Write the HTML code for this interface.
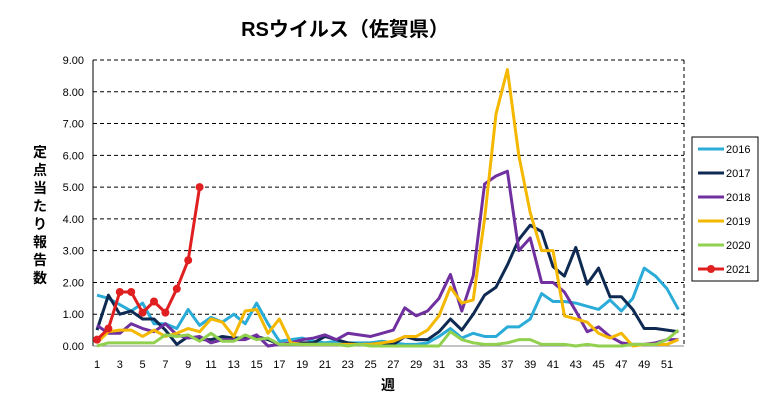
<!DOCTYPE html>
<html><head><meta charset="utf-8"><style>
body{margin:0;background:#fff;}
svg{display:block;font-family:"Liberation Sans","Noto Sans CJK JP",sans-serif;}
</style></head><body>
<svg id="s" width="774" height="414" xmlns="http://www.w3.org/2000/svg">
<text x="345" y="36" font-size="20" font-weight="bold" text-anchor="middle">RSウイルス（佐賀県）</text>
<g font-size="14" font-weight="bold" text-anchor="middle">
<text x="40" y="157">定</text><text x="40" y="175">点</text><text x="40" y="193">当</text><text x="40" y="211">た</text><text x="40" y="229">り</text><text x="40" y="247">報</text><text x="40" y="265">告</text><text x="40" y="283">数</text>
<text x="388" y="390">週</text>
</g>
<g id="g"></g>
</svg>
<script>
const g=document.getElementById('g');const NS='http://www.w3.org/2000/svg';
function el(t,a,txt){const e=document.createElementNS(NS,t);for(const k in a)e.setAttribute(k,a[k]);if(txt!==undefined)e.textContent=txt;g.appendChild(e);return e;}
const L=93,R=684,T=60,B=346;const Y=v=>B-v*(B-T)/9;const X=w=>97+(w-1)*11.4;
for(let i=0;i<=9;i++){const y=Y(i);if(i>0)el('line',{x1:L,x2:R,y1:y,y2:y,stroke:'#000','stroke-dasharray':'4,3','stroke-width':1});
el('text',{x:84,y:y+4,'font-size':11,'text-anchor':'end'},i.toFixed(2));}
el('line',{x1:R,x2:R,y1:T,y2:B,stroke:'#000','stroke-dasharray':'4,3'});
el('line',{x1:L,x2:L,y1:T,y2:B,stroke:'#000'});
el('line',{x1:L,x2:R,y1:B,y2:B,stroke:'#888'});
for(let w=1;w<=52;w+=2)el('text',{x:X(w),y:368,'font-size':11,'text-anchor':'middle'},w);
const D={
'#2BACD8':[1.6,1.5,1.3,1.1,1.35,0.7,0.7,0.55,1.15,0.65,0.9,0.75,1.0,0.7,1.35,0.7,0.15,0.2,0.25,0.15,0.1,0.15,0.1,0.1,0.1,0.15,0.1,0.05,0.05,0.1,0.3,0.55,0.25,0.4,0.3,0.3,0.6,0.6,0.85,1.65,1.4,1.4,1.35,1.25,1.15,1.45,1.1,1.5,2.45,2.2,1.8,1.15],
'#0F2A52':[0.5,1.6,1.0,1.1,0.85,0.85,0.5,0.05,0.3,0.2,0.2,0.3,0.25,0.25,0.3,0.2,0.05,0.05,0.1,0.1,0.3,0.2,0.1,0.05,0.05,0.1,0.05,0.3,0.2,0.2,0.45,0.85,0.5,1.0,1.6,1.85,2.55,3.35,3.8,3.6,2.5,2.2,3.1,1.95,2.45,1.55,1.55,1.15,0.55,0.55,0.5,0.45],
'#7030A0':[0.65,0.4,0.4,0.7,0.55,0.45,0.7,0.35,0.25,0.3,0.1,0.2,0.2,0.2,0.35,0.0,0.05,0.1,0.2,0.25,0.35,0.2,0.4,0.35,0.3,0.4,0.5,1.2,0.95,1.1,1.5,2.25,1.1,2.2,5.1,5.35,5.5,3.0,3.4,2.0,2.0,1.7,1.1,0.45,0.6,0.3,0.1,0.05,0.05,0.1,0.2,0.2],
'#F5B800':[0.1,0.45,0.5,0.5,0.3,0.5,0.3,0.4,0.55,0.45,0.85,0.75,0.3,1.1,1.15,0.4,0.85,0.1,0.05,0.05,0.05,0.05,0.05,0.05,0.05,0.1,0.15,0.3,0.3,0.5,0.95,1.85,1.35,1.45,4.0,7.3,8.7,6.0,4.2,3.0,3.0,0.95,0.85,0.75,0.4,0.25,0.4,0.0,0.05,0.05,0.05,0.2],
'#92D050':[0.0,0.1,0.1,0.1,0.1,0.1,0.35,0.3,0.35,0.15,0.4,0.15,0.15,0.35,0.2,0.25,0.05,0.05,0.05,0.05,0.05,0.05,0.0,0.05,0.0,0.0,0.0,0.0,0.0,0.0,0.0,0.45,0.2,0.1,0.05,0.05,0.1,0.2,0.2,0.05,0.05,0.05,0.0,0.05,0.0,0.0,0.0,0.05,0.05,0.05,0.2,0.5],
'#E02020':[0.2,0.55,1.7,1.7,1.05,1.4,1.05,1.8,2.7,5.0]};
const names=['2016','2017','2018','2019','2020','2021'];let i=0;
el('rect',{x:692,y:137,width:66,height:144,fill:'#fff',stroke:'#000'});
for(const c in D){const d=D[c];el('polyline',{points:d.map((v,k)=>X(k+1)+','+Y(v)).join(' '),fill:'none',stroke:c,'stroke-width':3,'stroke-linejoin':'round'});
if(c==='#E02020')d.forEach((v,k)=>el('circle',{cx:X(k+1),cy:Y(v),r:4,fill:c}));
const ly=149+i*24;el('line',{x1:698,x2:724,y1:ly,y2:ly,stroke:c,'stroke-width':3});
if(c==='#E02020')el('circle',{cx:711,cy:ly,r:4,fill:c});
el('text',{x:726,y:ly+4,'font-size':11},names[i]);i++;}
</script>
</body></html>
